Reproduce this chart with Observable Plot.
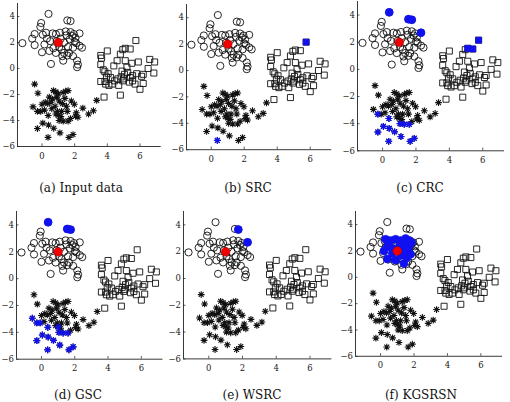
<!DOCTYPE html>
<html>
<head>
<meta charset="utf-8">
<script src="https://cdn.jsdelivr.net/npm/d3@7"></script>
<script src="https://cdn.jsdelivr.net/npm/@observablehq/plot@0.6"></script>
<style>
  html, body { margin: 0; padding: 0; background: #fff; }
  #fig { position: relative; width: 510px; height: 402px; overflow: hidden; }
  .panel { position: absolute; }
  .panel text { font-family: "DejaVu Serif", "Liberation Serif", serif; }
  .cap { position: absolute; transform: translate(-50%, -50%); white-space: nowrap;
         font-family: "DejaVu Serif", "Liberation Serif", serif; font-size: 12px; color: #111; }
</style>
</head>
<body>
<div id="fig"></div>
<script>
// Three synthetic clusters: class 1 (circles), class 2 (squares), class 3 (asterisks)
const circles = [
  [0.4,4.2],[1.55,3.7],[1.75,3.65],[-0.05,3.5],[-0.1,3.2],[-0.45,2.65],[-0.6,2.3],[-1.2,1.95],
  [-0.45,1.8],[0.05,2.6],[0.25,2.75],[0.65,2.7],[0.85,2.65],[1.1,2.75],[1.45,2.85],[1.75,2.8],
  [1.95,2.65],[2.3,2.7],[0.15,1.85],[0.5,2.1],[0.0,1.25],[0.55,0.35],[0.85,1.2],[1.25,0.95],
  [1.3,0.6],[1.65,1.2],[1.9,0.95],[2.15,0.6],[2.2,0.3],[2.15,0.1],[2.45,1.6],[2.1,1.95],
  [2.3,1.75],[1.35,1.2],[1.55,1.0],[1.05,1.65],[1.35,2.0],[1.7,2.25],[1.85,2.5],[0.3,2.3],
  [0.7,1.55],[1.15,2.3],[1.6,1.65],[2.0,2.05],[0.45,1.35],[1.9,1.6],[1.2,1.45],[2.05,2.35],
  [0.9,2.1],[1.5,2.55]
];
const squares = [
  [5.75,2.15],[4.0,1.35],[3.6,1.0],[3.65,0.8],[4.8,1.1],[5.1,1.55],[5.4,1.5],[4.95,1.45],
  [4.6,0.6],[5.1,0.6],[5.5,0.4],[5.9,0.5],[6.6,0.7],[6.9,0.5],[6.5,0.0],[6.85,-0.35],
  [3.6,0.3],[3.75,-0.1],[3.85,-0.25],[4.05,-0.4],[3.85,-1.0],[3.6,-1.0],[3.9,-1.2],[4.1,-1.3],
  [4.45,-0.95],[4.65,-0.8],[4.85,-0.65],[5.05,-0.45],[4.9,-0.2],[5.25,-0.3],[5.55,-0.55],[5.55,-0.95],
  [5.35,-1.05],[5.7,-1.2],[3.8,-2.2],[4.8,-2.05],[6.0,-1.6],[6.2,-1.15],[6.1,-0.6],[4.7,-1.3],
  [4.3,-1.2],[5.0,-0.8],[4.4,0.2],[5.8,-0.4],[6.2,-0.45],[4.2,-0.7],[5.2,0.1],[3.95,-0.65],
  [4.95,-0.95],[5.4,-0.7]
];
const stars = [
  [-0.55,-2.95],[-0.28,-3.3],[-0.08,-3.3],[0.38,-3.62],[1.0,-3.6],[1.05,-4.0],[1.3,-4.05],[1.6,-4.05],
  [0.05,-4.2],[0.4,-4.35],[0.72,-4.6],[-0.28,-4.62],[1.1,-4.95],[0.37,-5.3],[1.65,-5.3],[1.9,-5.08],
  [-0.45,-1.2],[-0.25,-1.9],[0.0,-2.75],[0.2,-2.6],[0.35,-2.7],[0.55,-2.6],[0.7,-1.7],[0.85,-1.8],
  [1.0,-1.95],[1.45,-1.75],[1.6,-1.7],[1.4,-2.3],[1.5,-2.9],[1.2,-3.3],[0.95,-3.3],[1.98,-2.75],
  [2.1,-3.4],[2.2,-3.75],[2.5,-3.05],[2.85,-3.5],[3.15,-3.25],[3.35,-2.45],[0.6,-3.1],[0.8,-2.9],
  [1.05,-2.5],[1.75,-3.85],[1.55,-3.3],[0.15,-3.2],[1.25,-2.7],[2.05,-3.65],[0.45,-2.2],[0.9,-2.2],
  [1.8,-2.5],[0.85,-3.5],[1.15,-3.7],[0.65,-2.35],[1.3,-1.85]
];
// Query sample
const query = [[1.0, 2.0]];

// Samples selected by each method
const srcCircles = [];
const srcSquares = [[5.75,2.15]];
const srcStars = [[0.37,-5.3]];

const crcCircles = [[0.4,4.2],[1.55,3.7],[1.75,3.65],[2.3,2.7]];
const crcSquares = [[5.75,2.15],[5.1,1.55],[5.4,1.5]];
const crcStars = [[-0.28,-3.3],[0.38,-3.62],[1.05,-4.0],[1.3,-4.05],[1.6,-4.05],[-0.28,-4.62],[0.05,-4.2],
                  [0.4,-4.35],[0.72,-4.6],[1.1,-4.95],[0.37,-5.3],[1.65,-5.3],[1.9,-5.08]];

const gscCircles = [[0.4,4.2],[1.55,3.7],[1.75,3.65]];
const gscSquares = [];
const gscStars = [[-0.55,-2.95],[-0.28,-3.3],[-0.08,-3.3],[0.38,-3.62],[1.0,-3.6],[1.05,-4.0],[1.3,-4.05],
                  [1.6,-4.05],[0.05,-4.2],[0.4,-4.35],[0.72,-4.6],[-0.28,-4.62],[1.1,-4.95],[0.37,-5.3],
                  [1.65,-5.3],[1.9,-5.08]];

const wsrcCircles = [[1.75,3.65],[2.3,2.7]];
const wsrcSquares = [];
const wsrcStars = [];

const kgCircles = [[0.3,2.9],[0.6,2.8],[0.9,2.9],[1.2,2.8],[1.5,2.95],[1.7,2.8],[1.85,2.65],[0.4,2.3],
                   [0.8,2.15],[1.1,2.3],[1.4,2.0],[1.7,2.3],[0.2,2.0],[0.4,1.4],[0.9,1.3],[1.4,1.05],
                   [0.7,1.8],[1.8,1.75],[1.2,1.65],[1.6,1.5],[0.5,2.6],[1.3,2.5]];
const kgSquares = [];
const kgStars = [];

const captions = ["(a) Input data", "(b) SRC", "(c) CRC", "(d) GSC", "(e) WSRC", "(f) KGSRSN"];
const xTicks = [0, 2, 4, 6];
const yTicks = [-6, -4, -2, 0, 2, 4];
const xDomain = [-1.5, 7.3];
const yDomain = [-6, 5];

// Panel frames in page pixels and caption centres
const layout = [
  {L: 16.5,  R: 160.2, T: 3,     B: 146,   cx: 81,  cy: 188},
  {L: 186.3, R: 331.5, T: 3.5,   B: 148.7, cx: 248, cy: 188},
  {L: 356.5, R: 503.5, T: 1.4,   B: 150.7, cx: 420, cy: 188},
  {L: 15.5,  R: 162,   T: 210.6, B: 358.3, cx: 78,  cy: 395},
  {L: 183.4, R: 331.8, T: 210.9, B: 358.3, cx: 252, cy: 395},
  {L: 354.9, R: 502,   T: 210.9, B: 355.7, cx: 421, cy: 395}
];
const selections = [
  {c: [], s: [], a: []},
  {c: srcCircles, s: srcSquares, a: srcStars},
  {c: crcCircles, s: crcSquares, a: crcStars},
  {c: gscCircles, s: gscSquares, a: gscStars},
  {c: wsrcCircles, s: wsrcSquares, a: wsrcStars},
  {c: kgCircles, s: kgSquares, a: kgStars}
];

// Eight-armed asterisk marker
const asterisk8 = {
  draw(ctx, size) {
    const r = Math.sqrt(size / Math.PI), d = r * Math.SQRT1_2;
    ctx.moveTo(-r, 0); ctx.lineTo(r, 0);
    ctx.moveTo(0, -r); ctx.lineTo(0, r);
    ctx.moveTo(-d, -d); ctx.lineTo(d, d);
    ctx.moveTo(-d, d); ctx.lineTo(d, -d);
  }
};

const BLUE = "#1010f0";
const mL = 24, mR = 4, mT = 4, mB = 20;
const fig = document.getElementById("fig");

layout.forEach((p, i) => {
  const sel = selections[i];
  const chart = Plot.plot({
    width: (p.R - p.L) + mL + mR,
    height: (p.B - p.T) + mT + mB,
    marginLeft: mL, marginRight: mR, marginTop: mT, marginBottom: mB,
    x: {domain: xDomain},
    y: {domain: yDomain},
    style: {fontFamily: "'DejaVu Serif', 'Liberation Serif', serif", fontSize: "8.5px", background: "transparent", color: "#222"},
    marks: [
      Plot.axisX(xTicks, {tickSize: 0, tickPadding: 6}),
      Plot.axisY(yTicks, {tickSize: 0, tickPadding: 2.5}),
      Plot.ruleX(xTicks, {x: d => d, y1: yDomain[0], y2: yDomain[0] + 0.2, stroke: "#333", strokeWidth: 0.8}),
      Plot.ruleY(yTicks, {y: d => d, x1: xDomain[0], x2: xDomain[0] + 0.15, stroke: "#333", strokeWidth: 0.8}),
      Plot.ruleY([yDomain[0]], {stroke: "#222", strokeWidth: 0.9}),
      Plot.ruleX([xDomain[0]], {stroke: "#222", strokeWidth: 0.9}),
      Plot.dot(circles, {x: d => d[0], y: d => d[1], r: 3.6, stroke: "#111", strokeWidth: 0.9, fill: "none"}),
      Plot.dot(squares, {x: d => d[0], y: d => d[1], r: 3.4, symbol: "square", stroke: "#111", strokeWidth: 0.9, fill: "none"}),
      Plot.dot(stars, {x: d => d[0], y: d => d[1], r: 3.4, symbol: asterisk8, stroke: "#111", strokeWidth: 1.1, fill: "none"}),
      Plot.dot(sel.c, {x: d => d[0], y: d => d[1], r: 4, fill: BLUE, stroke: BLUE, strokeWidth: 0.5}),
      Plot.dot(sel.s, {x: d => d[0], y: d => d[1], r: 3.4, symbol: "square", fill: BLUE, stroke: BLUE, strokeWidth: 0.5}),
      Plot.dot(sel.a, {x: d => d[0], y: d => d[1], r: 3.4, symbol: asterisk8, stroke: BLUE, strokeWidth: 1.2, fill: "none"}),
      Plot.dot(query, {x: d => d[0], y: d => d[1], r: 4.3, fill: "#f00000", stroke: "#b00000", strokeWidth: 0.6})
    ]
  });
  chart.classList.add("panel");
  chart.style.left = (p.L - mL) + "px";
  chart.style.top = (p.T - mT) + "px";
  chart.style.overflow = "visible";
  fig.appendChild(chart);

  const cap = document.createElement("div");
  cap.className = "cap";
  cap.textContent = captions[i];
  cap.style.left = p.cx + "px";
  cap.style.top = p.cy + "px";
  fig.appendChild(cap);
});
</script>
</body>
</html>
